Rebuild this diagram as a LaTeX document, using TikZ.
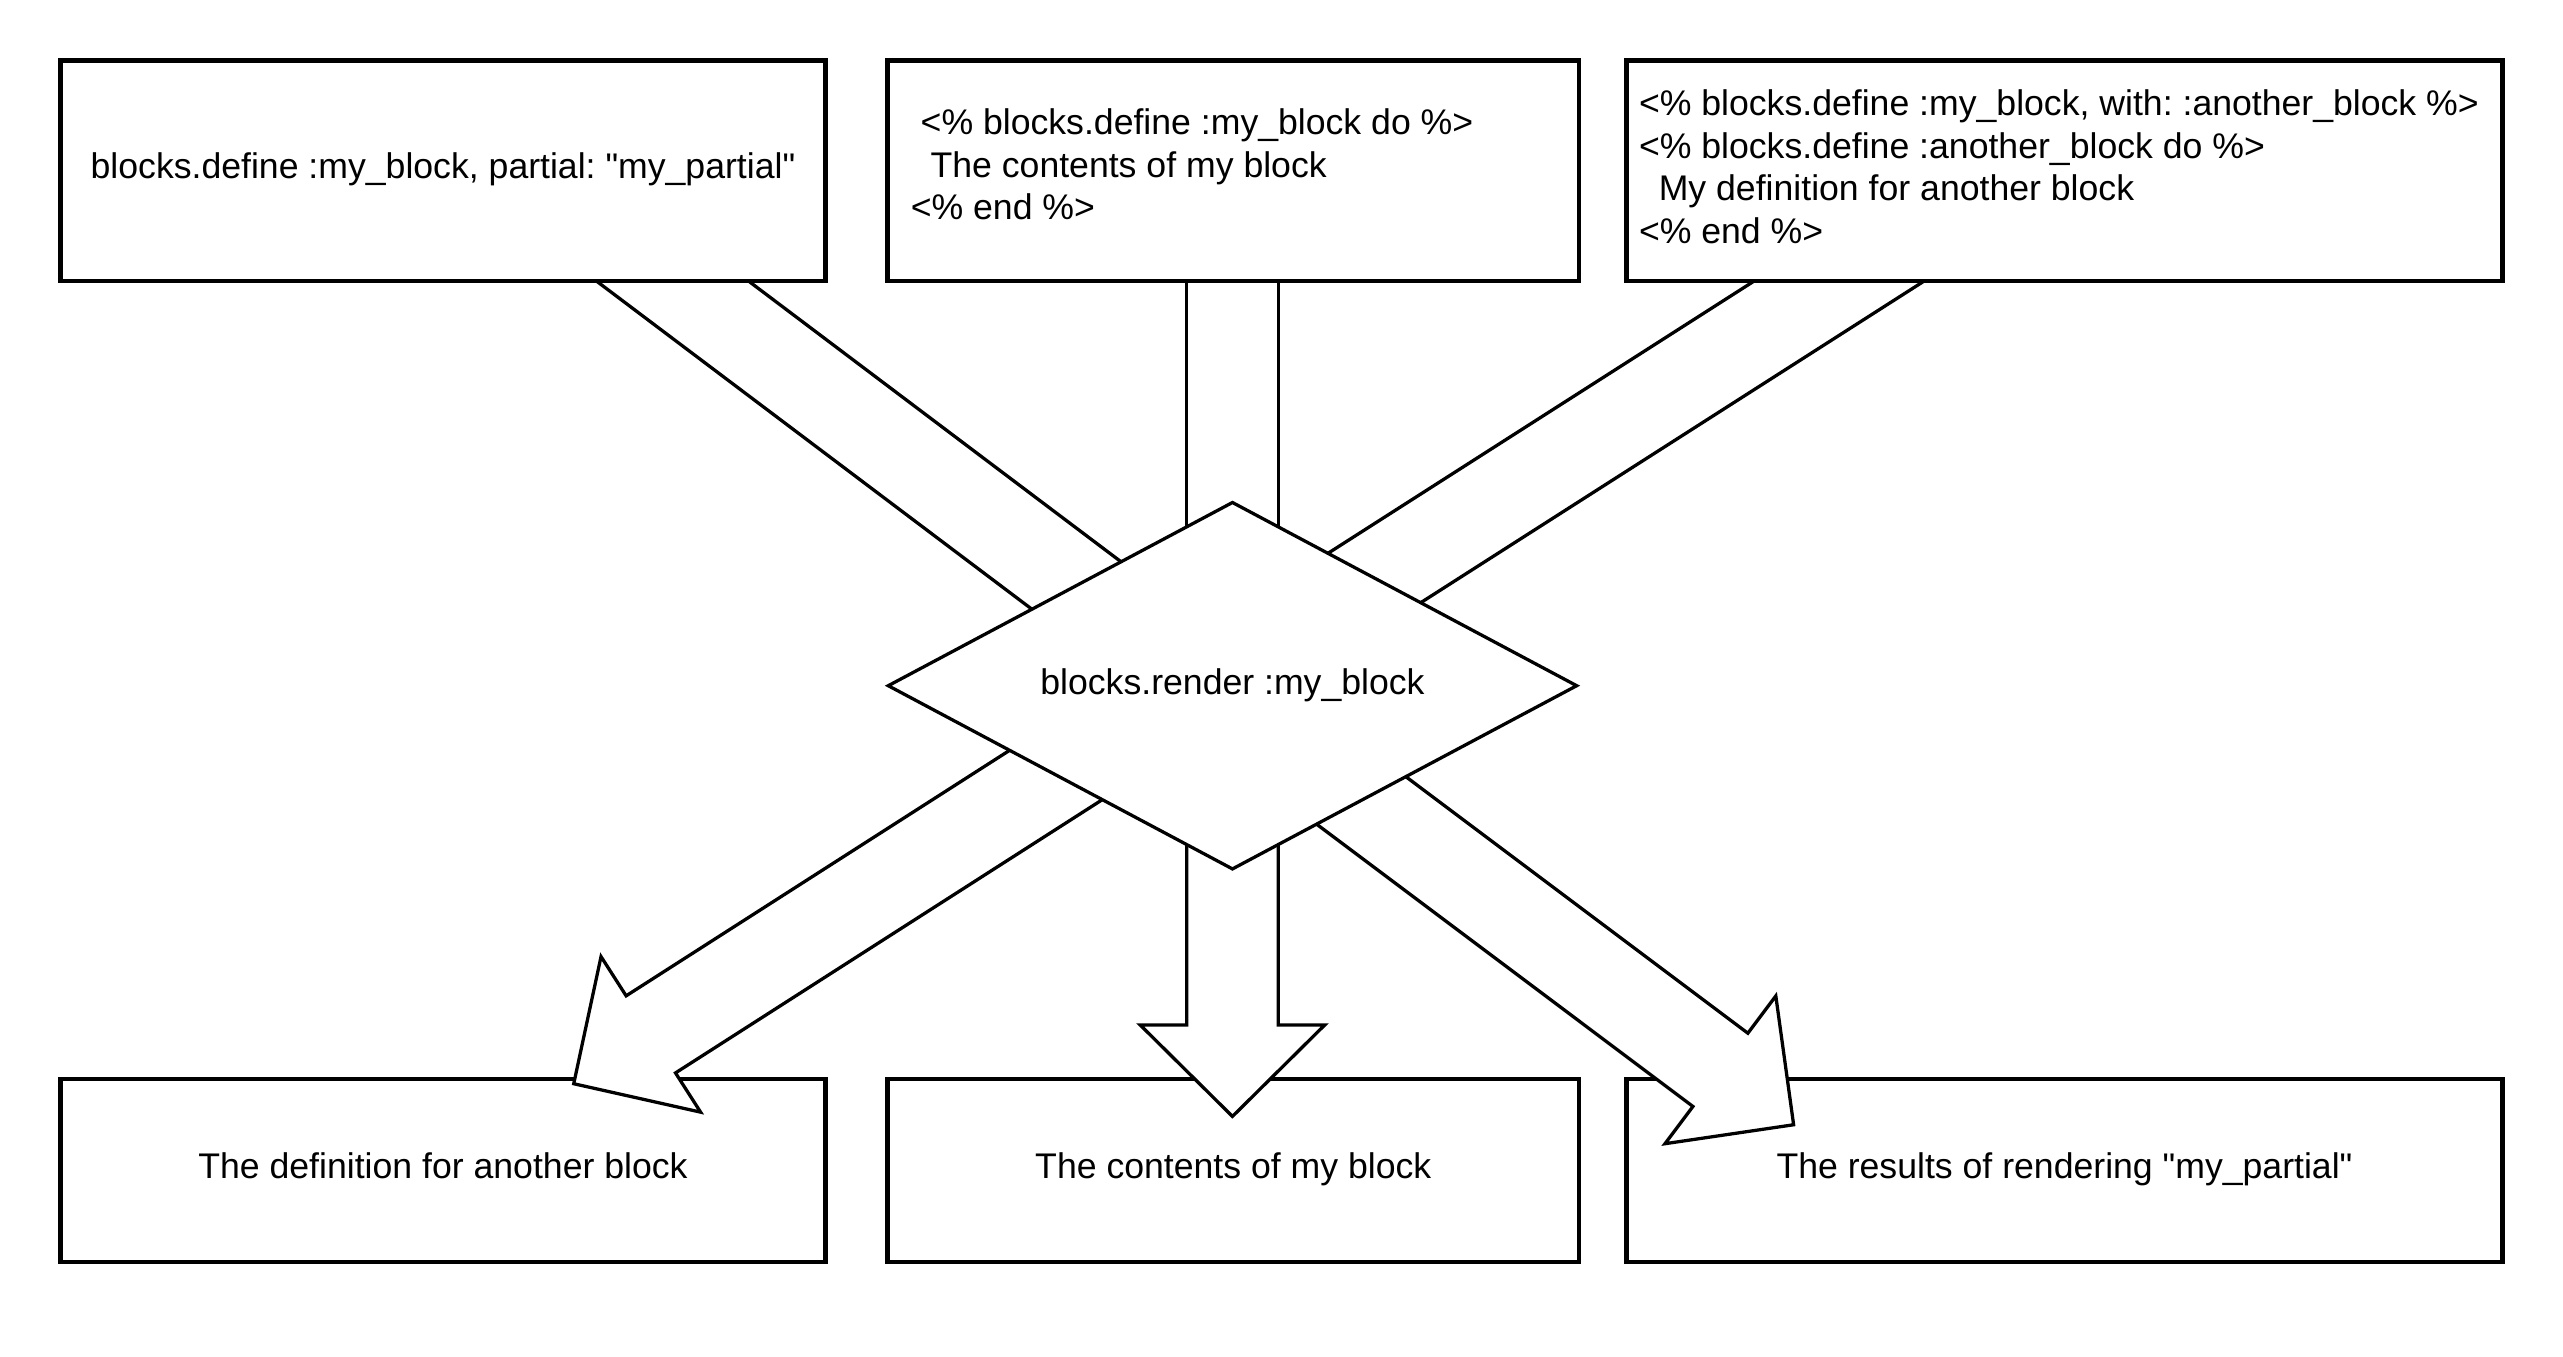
\documentclass[tikz,border=0pt]{standalone}
\usepackage{fontspec}
\setmainfont{Liberation Sans}
\usepackage{tikz}
\usetikzlibrary{positioning,calc,shapes.geometric}

% straight double quote, kept out of the TeX ligature mapping
\newcommand{\dq}{\XeTeXglyph\XeTeXcharglyph"22\relax}
\frenchspacing

% wide shaft, both ends hidden under the shapes
\newcommand{\fatshaft}[2]{%
	\draw[arrowline] ($(#1)!28pt!90:(#2)$) -- ($(#2)!28pt!-90:(#1)$) -- ($(#2)!28pt!90:(#1)$) -- ($(#1)!28pt!-90:(#2)$) -- cycle;
}
% wide arrow with a head at #2
\newcommand{\fatarrow}[2]{%
	\path (#2) coordinate (ahtip) ($(#2)!56pt!(#1)$) coordinate (ahbase);
	\draw[arrowline] ($(#1)!28pt!90:(#2)$) -- ($(ahbase)!28pt!90:(ahtip)$) -- ($(ahbase)!56.5pt!90:(ahtip)$) -- (ahtip)
		-- ($(ahbase)!56.5pt!-90:(ahtip)$) -- ($(ahbase)!28pt!-90:(ahtip)$) -- ($(#1)!28pt!-90:(#2)$) -- cycle;
}

\begin{document}
\begin{tikzpicture}[
						x=1pt, y=-1pt,
						every node/.style={font=\fontsize{21.8pt}{26pt}\selectfont},
						box/.style={rectangle, draw=black, line width=2.6pt, fill=white, text height=16pt, text depth=6.5pt},
						result/.style={box, minimum height=112pt},
						code/.style={anchor=west, align=left, inner sep=0pt},
						decision/.style={diamond, draw=black, line width=2pt, fill=white, aspect=1.875, minimum width=422pt, minimum height=225pt, inner sep=2pt},
						arrowline/.style={draw=black, line width=2pt, fill=white}
						]
						\useasboundingbox (0,0) rectangle (1568,830);
						
						% shaft ends
						\coordinate (tl-s) at (363.6,135.9);
						\coordinate (tl-e) at (730.9,412.7);
						\coordinate (tm-s) at (754,100);
						\coordinate (tm-e) at (754,418);
						\coordinate (tr-s) at (1175.6,139.7);
						\coordinate (tr-e) at (804.8,376.6);
						\coordinate (bl-s) at (754,405);
						\coordinate (bl-t) at (351,663);
						\coordinate (bm-s) at (754,418);
						\coordinate (bm-t) at (754,683);
						\coordinate (br-s) at (800,465.1);
						\coordinate (br-t) at (1097.3,688.1);
						
						% results
						\node[result, minimum width=468pt] (another) at (271,716) {The definition for another block};
						\node[result, minimum width=423pt] (contents) at (754.5,716) {The contents of my block};
						\node[result, minimum width=536pt] (results) at (1263,716) {The results of rendering \dq my\_partial\dq};
						
						\fatshaft{tl-s}{tl-e}
						\fatshaft{tm-s}{tm-e}
						\fatshaft{tr-s}{tr-e}
						\fatarrow{bl-s}{bl-t}
						\fatarrow{bm-s}{bm-t}
						\fatarrow{br-s}{br-t}
						
						% definitions
						\node[box, minimum width=468pt, minimum height=135pt] (partial) at (271,104.5) {blocks.define :my\_block, partial: \dq my\_partial\dq};
						\node[box, minimum width=423pt, minimum height=135pt] (block) at (754.5,104.5) {};
						\node[code] (block-text) at (557,100.5)
							{\hspace*{0.278em}<\% blocks.define :my\_block do \%>\\
							\hspace*{0.556em}The contents of my block\\
							<\% end \%>};
						\node[box, minimum width=536pt, minimum height=135pt] (with) at (1263,104.5) {};
						\node[code] (with-text) at (1002.5,102)
							{<\% blocks.define :my\_block, with: :another\_block \%>\\
							<\% blocks.define :another\_block do \%>\\
							\hspace*{0.556em}My definition for another block\\
							<\% end \%>};
						
						\node[decision, yshift=-1pt] (render) at (754,418.5) {blocks.render :my\_block};
					\end{tikzpicture}
\end{document}
